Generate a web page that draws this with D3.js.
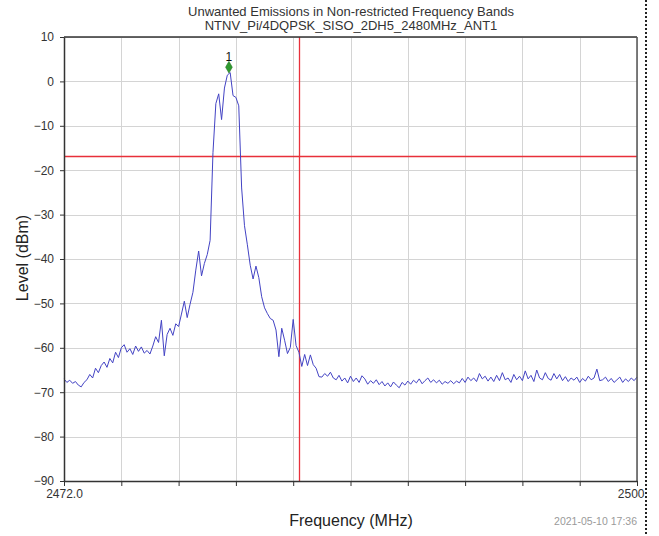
<!DOCTYPE html>
<html>
<head>
<meta charset="utf-8">
<script src="https://cdn.jsdelivr.net/npm/d3@7"></script>
<style>
  html, body { margin: 0; padding: 0; background: #fff; }
  svg { display: block; font-family: "Liberation Sans", Arial, sans-serif; }
</style>
</head>
<body>
<svg id="chart" width="659" height="536"></svg>
<script>
// ---- data ----
const titleLines = ["Unwanted Emissions in Non-restricted Frequency Bands", "NTNV_Pi/4DQPSK_SISO_2DH5_2480MHz_ANT1"];
const freqStart = 2472.0;
const freqStep = 0.14;
const levels = [
  -67.0, -67.8, -67.3, -68.0, -67.6, -68.4, -68.8, -67.8, -67.2, -66.0,
  -66.8, -64.6, -65.6, -64.0, -63.2, -64.4, -62.4, -63.4, -61.0, -62.2,
  -60.0, -59.3, -61.0, -60.2, -61.5, -59.6, -60.8, -59.8, -61.2, -60.6,
  -61.4, -59.6, -57.5, -58.8, -53.8, -61.8, -57.0, -55.6, -57.2, -54.6,
  -55.2, -52.4, -49.5, -53.2, -50.2, -47.5, -42.5, -38.2, -43.8, -41.0,
  -39.0, -35.8, -16.0, -5.0, -2.8, -8.6, -1.5, 1.4, 2.0, -3.2,
  -3.6, -5.5, -24.0, -32.5, -36.8, -41.4, -44.5, -41.6, -44.2, -48.5,
  -51.0, -52.3, -53.4, -53.8, -56.0, -62.0, -55.6, -58.3, -61.3, -59.9,
  -53.6, -59.5, -61.0, -64.2, -61.5, -64.0, -61.6, -63.8, -64.6, -66.5,
  -66.6, -65.8, -66.4, -65.5, -66.8, -67.2, -66.2, -67.5, -66.8, -67.9,
  -66.4, -67.6, -66.8, -67.8, -66.3, -67.0, -68.2, -67.4, -68.0, -67.2,
  -68.3, -67.6, -68.6, -67.9, -68.8, -67.7, -68.4, -69.0, -67.8, -68.4,
  -67.5, -68.2, -67.3, -67.9, -67.0, -68.1, -67.4, -66.8, -67.8, -67.2,
  -67.9, -67.3, -68.2, -67.6, -68.0, -67.4, -68.1, -67.5, -67.9, -66.9,
  -67.8, -66.6, -67.4, -66.8, -67.6, -65.8, -67.0, -66.4, -67.5, -66.6,
  -67.6, -66.2, -67.4, -65.6, -67.2, -66.8, -67.8, -66.0, -67.2, -66.4,
  -67.4, -65.2, -67.0, -66.2, -67.6, -65.0, -66.8, -67.2, -65.6, -66.9,
  -67.3, -65.8, -67.0, -66.0, -67.4, -66.5, -67.6, -66.8, -67.3, -66.6,
  -67.8, -66.9, -67.5, -66.4, -67.2, -66.8, -64.8, -67.4, -67.2, -66.6,
  -67.6, -66.9, -67.8, -67.2, -66.6, -67.8, -67.0, -67.6, -66.8, -67.4,
  -66.6
];
const xTicks = [2472.0, 2474.8, 2477.6, 2480.4, 2483.2, 2486.0, 2488.8, 2491.6, 2494.4, 2497.2, 2500.0];
const xTickLabels = ["2472.0", "", "", "", "", "", "", "", "", "", "2500"];
const yTicks = [10, 0, -10, -20, -30, -40, -50, -60, -70, -80, -90];
const limitLevel = [-16.8];
const bandEdgeFreq = [2483.5];
const markerFreq = [2480.06];
const markerLevel = [3.2];
const markerLabel = ["1"];
const timestamp = "2021-05-10 17:36";

// ---- drawing ----
const svg = d3.select("#chart");
const L = 64, R = 637, T = 37, B = 481;
const x = d3.scaleLinear().domain([2472, 2500]).range([L, R]);
const y = d3.scaleLinear().domain([-90, 10]).range([B, T]);
const px = v => Math.round(v) + 0.5;

const points = levels.map((v, i) => ({ f: freqStart + i * freqStep, v }));

// grid
svg.append("g").selectAll("line").data(yTicks).join("line")
  .attr("x1", L).attr("x2", R)
  .attr("y1", d => px(y(d))).attr("y2", d => px(y(d)))
  .attr("stroke", "#d4d4d4").attr("stroke-width", 1);
svg.append("g").selectAll("line").data(xTicks).join("line")
  .attr("x1", d => px(x(d))).attr("x2", d => px(x(d)))
  .attr("y1", T).attr("y2", B)
  .attr("stroke", "#d4d4d4").attr("stroke-width", 1);

// limit lines
svg.append("g").selectAll("line").data(limitLevel).join("line")
  .attr("x1", L).attr("x2", R)
  .attr("y1", d => px(y(d))).attr("y2", d => px(y(d)))
  .attr("stroke", "#e8303a").attr("stroke-width", 1.3);
svg.append("g").selectAll("line").data(bandEdgeFreq).join("line")
  .attr("x1", d => px(x(d))).attr("x2", d => px(x(d)))
  .attr("y1", T).attr("y2", B)
  .attr("stroke", "#e8303a").attr("stroke-width", 1.3);

// trace
svg.append("path").datum(points)
  .attr("fill", "none")
  .attr("stroke", "#4343c4")
  .attr("stroke-width", 1)
  .attr("stroke-linejoin", "round")
  .attr("d", d3.line().x(d => x(d.f)).y(d => y(d.v)));

// frame
svg.append("line").attr("x1", L).attr("x2", R).attr("y1", T).attr("y2", T)
  .attr("stroke", "#333").attr("stroke-width", 1.5);
svg.append("line").attr("x1", R).attr("x2", R).attr("y1", T).attr("y2", B)
  .attr("stroke", "#555").attr("stroke-width", 1.5);

// axes
const yAxis = d3.axisLeft(y).tickValues(yTicks).tickSize(4).tickPadding(6).tickSizeOuter(0)
  .tickFormat(d => d3.format("d")(d).replace("-", "\u2212"));
const gy = svg.append("g").attr("transform", `translate(${L},0)`).call(yAxis);
gy.select(".domain").attr("stroke", "#333").attr("stroke-width", 1.5);
gy.selectAll(".tick line").attr("stroke", "#333");
gy.selectAll(".tick text").attr("fill", "#333").style("font-size", "12px")
  .style("font-family", "'Liberation Sans', Arial, sans-serif");

const xAxis = d3.axisBottom(x).tickValues(xTicks).tickSize(5).tickPadding(3).tickSizeOuter(0)
  .tickFormat((d, i) => xTickLabels[i]);
const gx = svg.append("g").attr("transform", `translate(0,${B})`).call(xAxis);
gx.select(".domain").attr("stroke", "#333").attr("stroke-width", 1.5);
gx.selectAll(".tick line").attr("stroke", "#333");
gx.selectAll(".tick text").attr("fill", "#333").style("font-size", "12px")
  .style("font-family", "'Liberation Sans', Arial, sans-serif");
gx.selectAll(".tick text").filter((d, i) => i === xTicks.length - 1)
  .attr("text-anchor", "end").attr("dx", 7);

// marker
svg.append("g").selectAll("path").data(markerFreq).join("path")
  .attr("transform", (d, i) => `translate(${x(d)},${y(markerLevel[i])})`)
  .attr("d", d3.symbol().type(d3.symbolDiamond).size(40))
  .attr("fill", "#2f9a2f").attr("stroke", "#1d6b1d").attr("stroke-width", 0.5);
svg.append("g").selectAll("text").data(markerFreq).join("text")
  .attr("x", d => x(d)).attr("y", (d, i) => y(markerLevel[i]) - 6)
  .attr("text-anchor", "middle").attr("fill", "#111").style("font-size", "12px")
  .text((d, i) => markerLabel[i]);

// titles
svg.append("g").selectAll("text").data(titleLines).join("text")
  .attr("x", 351).attr("y", (d, i) => 15.5 + i * 14)
  .attr("text-anchor", "middle").attr("fill", "#333").style("font-size", "13px")
  .text(d => d);

svg.append("text").attr("x", 351).attr("y", 526)
  .attr("text-anchor", "middle").attr("fill", "#222").style("font-size", "16px")
  .text("Frequency (MHz)");

svg.append("text").attr("transform", "translate(28,258) rotate(-90)")
  .attr("text-anchor", "middle").attr("fill", "#222").style("font-size", "16px")
  .text("Level (dBm)");

svg.append("text").attr("x", 637).attr("y", 525)
  .attr("text-anchor", "end").attr("fill", "#9a9a9a").style("font-size", "10.5px")
  .text(timestamp);

// right edge: white mask + dotted border
svg.append("rect").attr("x", 645).attr("y", 0).attr("width", 14).attr("height", 536).attr("fill", "#fff");
svg.append("line").attr("x1", 646).attr("x2", 646).attr("y1", 0).attr("y2", 536)
  .attr("stroke", "#222").attr("stroke-width", 2).attr("stroke-dasharray", "2,2");
</script>
</body>
</html>
